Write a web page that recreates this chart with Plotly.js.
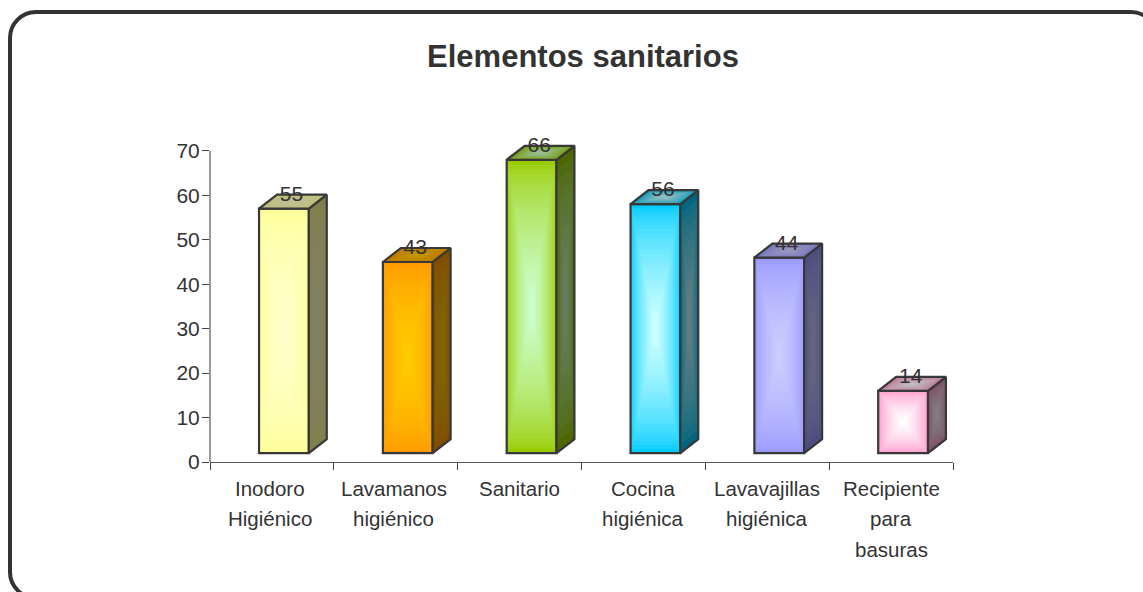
<!DOCTYPE html>
<html><head><meta charset="utf-8">
<script src="https://cdn.plot.ly/plotly-3.0.1.min.js"></script>
<style>html,body{margin:0;padding:0;background:#fff;overflow:hidden}#c{width:1143px;height:592px}</style>
</head><body><div id="c"></div>
<script>
const categories=["Inodoro Higiénico","Lavamanos higiénico","Sanitario","Cocina higiénica","Lavavajillas higiénica","Recipiente para basuras"];
const categoryLines=[["Inodoro","Higiénico"],["Lavamanos","higiénico"],["Sanitario"],["Cocina","higiénica"],["Lavavajillas","higiénica"],["Recipiente","para","basuras"]];
const values=[55,43,66,56,44,14];
const edgeColors=[[255,255,153],[255,153,0],[153,204,0],[0,204,255],[153,153,255],[255,153,204]];
const centerColors=[[255,255,204],[255,204,0],[204,255,204],[204,255,255],[204,204,255],[255,255,255]];
const yTicks=[0,10,20,30,40,50,60,70];
const W=1143,H=592,L=210,R=953,T=142,B=462;
const floorV=2,faceW=0.402,offX=0.097,depthX=0.145,depthY=3.15;
const frontLevels=30,faceLevels=14,ink="#383838";
const cx=i=>i+offX;
const ease=t=>Math.min(1,Math.pow(t,0.65)*1.05);
const mix=(a,b,t,k)=>`rgb(${a.map((v,j)=>Math.round((v+(b[j]-v)*t)*k)).join(",")})`;
const traces=[];
for(let l=0;l<frontLevels;l++){
  const t=l/frontLevels;
  traces.push({type:"bar",xaxis:"x2",yaxis:"y",x:values.map((v,i)=>cx(i)),
    y:values.map(v=>v*(1-t)),base:values.map(v=>floorV+v*t/2),width:values.map(()=>faceW*(1-t)),
    marker:{color:edgeColors.map((c,i)=>mix(c,centerColors[i],ease(t),1)),line:{width:0}},hoverinfo:"skip",showlegend:false});
}
traces.push({type:"bar",xaxis:"x2",yaxis:"y",x:values.map((v,i)=>cx(i)),y:values,base:values.map(()=>floorV),
  width:values.map(()=>faceW),marker:{color:"rgba(0,0,0,0)",line:{width:2.2,color:ink}},hoverinfo:"skip",showlegend:false});
function facePoly(i,kind){
  const v=values[i],x0=cx(i)-faceW/2,x1=cx(i)+faceW/2,top=v+floorV;
  return kind==="side"
    ?[[x1,floorV],[x1+depthX,floorV+depthY],[x1+depthX,top+depthY],[x1,top]]
    :[[x0,top],[x0+depthX,top+depthY],[x1+depthX,top+depthY],[x1,top]];
}
values.forEach((v,i)=>{
  [["side",0.5],["top",0.75]].forEach(([kind,shade])=>{
    const p=facePoly(i,kind);
    const mx=p.reduce((s,q)=>s+q[0],0)/4,my=p.reduce((s,q)=>s+q[1],0)/4;
    for(let l=0;l<faceLevels;l++){
      const t=l/faceLevels;
      const q=p.map(c=>[mx+(c[0]-mx)*(1-t),my+(c[1]-my)*(1-t)]);q.push(q[0]);
      traces.push({type:"scatter",mode:"lines",xaxis:"x2",yaxis:"y",fill:"toself",
        fillcolor:mix(edgeColors[i],centerColors[i],ease(t),shade),
        x:q.map(c=>c[0]),y:q.map(c=>c[1]),line:{width:0},hoverinfo:"skip",showlegend:false});
    }
    const o=p.concat([p[0]]);
    traces.push({type:"scatter",mode:"lines",xaxis:"x2",yaxis:"y",
      x:o.map(c=>c[0]),y:o.map(c=>c[1]),line:{color:ink,width:2.2},hoverinfo:"skip",showlegend:false});
  });
});
traces.push({type:"scatter",mode:"text",xaxis:"x2",yaxis:"y",
  x:values.map((v,i)=>cx(i)+depthX*0.42),y:values.map(v=>v+floorV+depthY-0.2),
  text:values.map(String),textposition:"middle center",
  textfont:{family:"Liberation Sans",size:21,color:"#333"},cliponaxis:false,hoverinfo:"skip",showlegend:false});
traces.push({type:"bar",x:categories,y:values.map(()=>0),hoverinfo:"skip",showlegend:false,marker:{opacity:0}});
const annotations=[];
categoryLines.forEach((lines,i)=>lines.forEach((s,k)=>annotations.push({
  xref:"x2",yref:"y",x:i,xshift:i<2?-2:0,y:0,yshift:-26-30.5*k,text:s,showarrow:false,xanchor:"center",yanchor:"middle",
  font:{family:"Liberation Sans",size:20.5,color:"#333"}})));
const px=x=>(x-L)/(R-L),py=y=>(B-y)/(B-T);
const r=26,c=r*0.45,bl=10,bt=12,br=1157,bb=598;
const P=(x,y)=>`${px(x)} ${py(y)}`;
const border=`M ${P(bl,bb-r)} L ${P(bl,bt+r)} C ${P(bl,bt+c)} ${P(bl+c,bt)} ${P(bl+r,bt)} L ${P(br-r,bt)} C ${P(br-c,bt)} ${P(br,bt+c)} ${P(br,bt+r)} L ${P(br,bb-r)} C ${P(br,bb-c)} ${P(br-c,bb)} ${P(br-r,bb)} L ${P(bl+r,bb)} C ${P(bl+c,bb)} ${P(bl,bb-c)} ${P(bl,bb-r)} Z`;
const layout={width:W,height:H,autosize:false,paper_bgcolor:"#fff",plot_bgcolor:"#fff",barmode:"overlay",showlegend:false,
  margin:{l:L,r:W-R,t:T,b:H-B,pad:0},
  title:{text:"<b>Elementos sanitarios</b>",font:{family:"Liberation Sans",size:31,color:"#333"},x:583/W,xanchor:"center",y:1-56/H,yanchor:"middle"},
  xaxis:{type:"category",tickson:"boundaries",range:[-0.5,5.5],ticks:"outside",ticklen:7,tickcolor:"#444",tickwidth:1,
    showline:true,linecolor:"#555",linewidth:1,showgrid:false,zeroline:false,showticklabels:false,automargin:false},
  xaxis2:{overlaying:"x",type:"linear",range:[-0.5,5.5],visible:false,fixedrange:true},
  yaxis:{range:[0,72],tickvals:yTicks,ticks:"outside",ticklen:7,tickcolor:"#444",tickwidth:1,
    showline:false,showgrid:false,zeroline:false,ticklabelstandoff:-2,
    tickfont:{family:"Liberation Sans",size:21,color:"#333"},automargin:false},
  annotations,
  shapes:[
    {type:"line",xref:"paper",yref:"y",x0:0,x1:0,y0:-1.6,y1:70,line:{color:"#999",width:2},layer:"above"},
    {type:"path",xref:"paper",yref:"paper",path:border,line:{color:"#333",width:4},layer:"above"}]
};
Plotly.newPlot("c",traces,layout,{displayModeBar:false,staticPlot:true});
</script></body></html>
